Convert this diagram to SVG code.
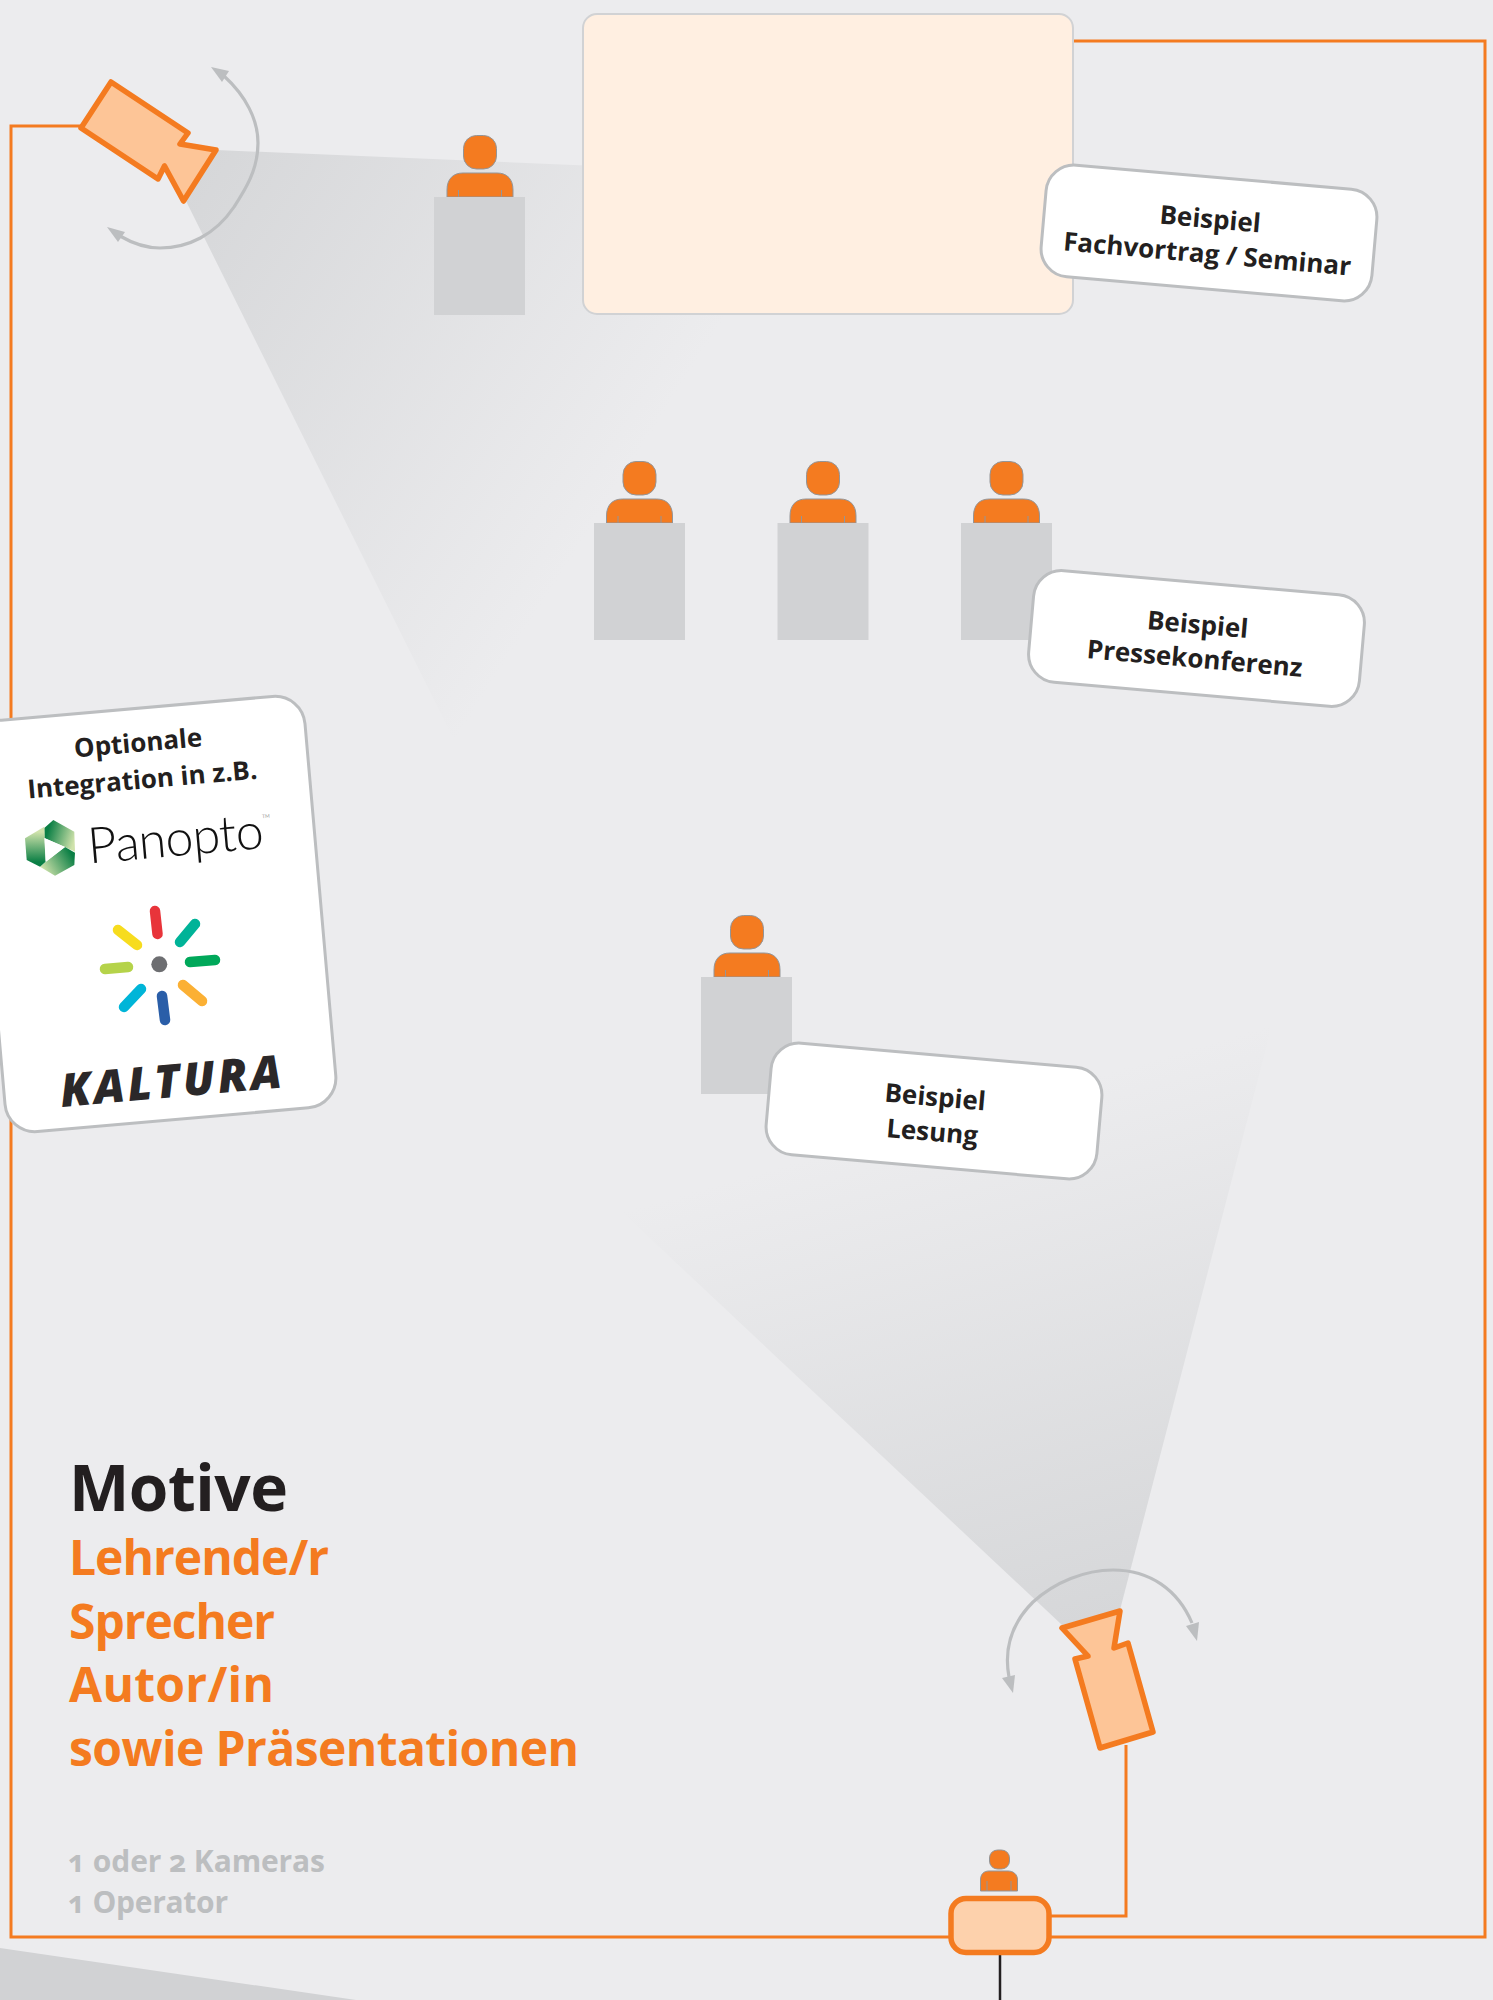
<svg xmlns="http://www.w3.org/2000/svg" width="1493" height="2000" viewBox="0 0 1493 2000">
<style>
.t{font-family:"Open Sans","Noto Sans",sans-serif;font-weight:700}
.lab{font-size:26px;fill:#231f20;text-anchor:middle}
.o{font-size:48px;fill:#f47b20}
.g{font-size:30px;fill:#bcbec0;font-variant-numeric:oldstyle-nums}
.box{fill:#fff;stroke:#bcbec0;stroke-width:3}
.cam{fill:#fdc597;stroke:#f47b20;stroke-width:5.5;stroke-linejoin:round}
.wire{fill:none;stroke:#f47b20;stroke-width:3}
.arc{fill:none;stroke:#bcbec0;stroke-width:3.2}
.head{fill:#bcbec0}
.p{fill:#f47b20;stroke:#939598;stroke-width:1}
.pl{stroke:#939598;stroke-width:1;fill:none}
.pod{fill:#d1d2d4}
.ray{stroke-width:10.5;stroke-linecap:round;fill:none}
</style>
<defs>
<linearGradient id="c1" gradientUnits="userSpaceOnUse" x1="190" y1="180" x2="633" y2="462"><stop offset="0" stop-color="#d6d7d9"/><stop offset="1" stop-color="#ececee"/></linearGradient>
<linearGradient id="c2" gradientUnits="userSpaceOnUse" x1="1090" y1="1620" x2="946" y2="1119"><stop offset="0" stop-color="#d6d7d9"/><stop offset="1" stop-color="#ececee"/></linearGradient>
<linearGradient id="h1" gradientUnits="userSpaceOnUse" x1="48" y1="830" x2="75" y2="838"><stop offset="0" stop-color="#0b7f45"/><stop offset="1" stop-color="#cfe2ab"/></linearGradient>
<linearGradient id="h2" gradientUnits="userSpaceOnUse" x1="72" y1="855" x2="44" y2="872"><stop offset="0" stop-color="#0b7f45"/><stop offset="1" stop-color="#cfe2ab"/></linearGradient>
<linearGradient id="h3" gradientUnits="userSpaceOnUse" x1="34" y1="862" x2="34" y2="832"><stop offset="0" stop-color="#0b7f45"/><stop offset="1" stop-color="#cfe2ab"/></linearGradient>
<g id="person"><rect class="p" x="463.5" y="135.5" width="33" height="33.5" rx="13"/><path class="p" d="M447,197V190C447,179 453,173 463,173H497C507,173 513,179 513,190V197Z"/><path class="pl" d="M458.5,190V197M501.5,190V197"/></g>
</defs>
<rect width="1493" height="2000" fill="#ececee"/>
<polygon points="0,1948 356,2000 0,2000" fill="#d1d2d4"/>
<polygon id="cone-1" points="216,150 1072,186 721,325 455,742 186,201" fill="url(#c1)"/>
<polygon id="cone-2" points="1062,1625 1120,1610 1272,1025 622,1212" fill="url(#c2)"/>
<g id="connectors">
<path class="wire" d="M81,126H11V1937H1485V41H1072"/>
<path class="wire" d="M1126,1745V1916H1050"/>
<path d="M1000,1955V2000" fill="none" stroke="#231f20" stroke-width="2.5"/>
<path class="arc" d="M224,76C246,96 258,120 258,143C258,170 245,190 234,207C215,235 188,248 160,248C145,248 132,243 120,236"/>
<polygon class="head" points="211,67 229,71 222,82"/>
<polygon class="head" points="107,227 125,232 118,242"/>
<path class="arc" d="M1009,1677C1004,1650 1010,1625 1033,1602C1055,1582 1085,1570 1113,1570C1150,1570 1178,1590 1192,1623"/>
<polygon class="head" points="1013,1693 1002,1678 1015,1675"/>
<polygon class="head" points="1197,1641 1186,1626 1199,1622"/>
</g>
<g id="screen"><rect x="583" y="14" width="490" height="300" rx="14" fill="#ffefe1" stroke="#d1d2d4" stroke-width="2"/></g>
<g id="camera-1"><polygon class="cam" points="111,82 188,133 180,144 216,150 183.5,201 164.5,166 158,179 81,128"/></g>
<g id="camera-2"><polygon class="cam" points="1120,1611 1114,1648 1128,1643 1153,1732 1100,1748 1075,1659 1088,1656 1062,1628"/></g>
<g id="console"><rect x="951" y="1898.5" width="98" height="54" rx="15" fill="#fdd1ac" stroke="#f47b20" stroke-width="5.5"/></g>
<g id="operator"><rect class="p" x="989.5" y="1850" width="20" height="19" rx="8"/><path class="p" d="M980.5,1891V1880C980.5,1874 984,1871 989,1871H1008C1013,1871 1017.5,1874 1017.5,1880V1891Z"/><path class="pl" d="M987,1881V1891M1011,1881V1891"/></g>
<g id="speaker-1"><use href="#person"/><rect class="pod" x="434" y="197" width="91" height="118"/></g>
<g id="speaker-2"><use href="#person" x="159.5" y="326"/><rect class="pod" x="594" y="523" width="91" height="117"/></g>
<g id="speaker-3"><use href="#person" x="343" y="326"/><rect class="pod" x="777.5" y="523" width="91" height="117"/></g>
<g id="speaker-4"><use href="#person" x="526.5" y="326"/><rect class="pod" x="961" y="523" width="91" height="117"/></g>
<g id="speaker-5"><use href="#person" x="267" y="780"/><rect class="pod" x="701" y="977" width="91" height="117"/></g>
<g id="label-1" transform="translate(1209,233) rotate(5)"><rect class="box" x="-166" y="-56" width="332" height="112" rx="28"/><text class="t lab" y="-5">Beispiel</text><text class="t lab" y="30">Fachvortrag / Seminar</text></g>
<g id="label-2" transform="translate(1196.5,638.5) rotate(5)"><rect class="box" x="-166" y="-56" width="332" height="112" rx="28"/><text class="t lab" y="-5">Beispiel</text><text class="t lab" y="29">Pressekonferenz</text></g>
<g id="label-3" transform="translate(934,1111) rotate(5)"><rect class="box" x="-166" y="-56" width="332" height="112" rx="28"/><text class="t lab" y="-5">Beispiel</text><text class="t lab" y="30">Lesung</text></g>
<g id="integration">
<g transform="translate(155,914) rotate(-5)"><rect class="box" x="-166" y="-206.5" width="332" height="413" rx="30"/>
<text class="t lab" x="-2" y="-163">Optionale</text><text class="t lab" x="-1" y="-126">Integration in z.B.</text>
<text x="27" y="-56" font-family="Lato,sans-serif" font-weight="300" font-size="50" fill="#111" text-anchor="middle" textLength="176">Panopto</text>
<text x="119" y="-86" font-family="Lato,sans-serif" font-size="5" fill="#999" text-anchor="middle">TM</text>
<text x="1" y="184" font-family="Open Sans,sans-serif" font-weight="800" font-style="italic" font-size="46" fill="#2b2829" text-anchor="middle" textLength="222">KALTURA</text></g>
<polygon points="44.3,828 53.3,820 74.3,831.7 75,851.7 65,847 44.3,838" fill="url(#h1)"/>
<polygon points="65,847 75,852.7 74.3,865 55,875.7 40,866.7 46,861.7" fill="url(#h2)"/>
<polygon points="25,838.3 44.3,826.7 45.7,861.7 40,866.7 26.7,860" fill="url(#h3)"/>
<polygon points="44.3,838 65,847 45.7,861.7" fill="#fff"/>
<path class="ray" stroke="#e8343a" d="M155,911L157.5,934"/>
<path class="ray" stroke="#00b398" d="M195,924L180,942"/>
<path class="ray" stroke="#00a85a" d="M190,962L215,960"/>
<path class="ray" stroke="#fbb034" d="M183,985L202,1001"/>
<path class="ray" stroke="#2a5ea8" d="M162,996L165,1020"/>
<path class="ray" stroke="#00b5d8" d="M141,989L124,1007"/>
<path class="ray" stroke="#b5d34a" d="M105,969L128,967"/>
<path class="ray" stroke="#f7dc1e" d="M118,930L137,945"/>
<circle cx="159.3" cy="964.3" r="8" fill="#6d6e71"/>
</g>
<g id="title">
<text class="t" x="69" y="1511" font-size="64" fill="#231f20" textLength="219">Motive</text>
<text class="t o" x="69" y="1575" textLength="260">Lehrende/r</text>
<text class="t o" x="69" y="1639" textLength="206">Sprecher</text>
<text class="t o" x="69" y="1702" textLength="205">Autor/in</text>
<text class="t o" x="69" y="1766" textLength="510">sowie Präsentationen</text>
<text class="t g" x="68" y="1872" textLength="257">1 oder 2 Kameras</text>
<text class="t g" x="68" y="1913" textLength="160">1 Operator</text>
</g>
</svg>
